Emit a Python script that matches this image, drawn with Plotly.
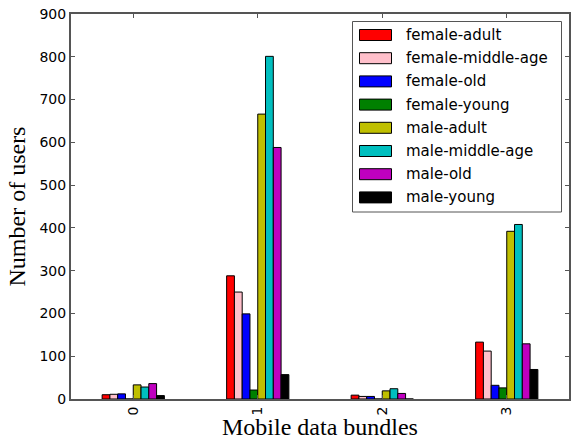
import plotly.graph_objects as go

categories = ["0", "1", "2", "3"]
series_names = ["female-adult", "female-middle-age", "female-old", "female-young",
                "male-adult", "male-middle-age", "male-old", "male-young"]
female_adult = [10, 288, 9, 133]
female_middle_age = [11, 250, 6, 112]
female_old = [12, 199, 6, 32]
female_young = [0, 21, 0, 26]
male_adult = [33, 666, 19, 392]
male_middle_age = [28, 801, 24, 408]
male_old = [36, 588, 13, 129]
male_young = [8, 57, 0, 69]
colors = ["#FF0000", "#FFC0CB", "#0000FF", "#008000",
          "#BFBF00", "#00BFBF", "#BF00BF", "#000000"]
y_ticks = [0, 100, 200, 300, 400, 500, 600, 700, 800, 900]

series_values = [female_adult, female_middle_age, female_old, female_young,
                 male_adult, male_middle_age, male_old, male_young]

W, H = 578, 441
ML, MR, MT, MB = 71, 9, 14, 42
PW, PH = W - ML - MR, H - MT - MB


def px_x(p):
    return (p - ML) / PW


def px_y(p):
    return (H - MB - p) / PH


fig = go.Figure()
for name, vals, col in zip(series_names, series_values, colors):
    fig.add_trace(go.Bar(x=categories, y=vals, name=name, showlegend=False,
                         marker=dict(color=col, line=dict(color="black", width=1))))

axis_col = "#555555"
shapes = []
annotations = []

# custom legend (matplotlib style)
shapes.append(dict(type="rect", xref="paper", yref="paper",
                   x0=px_x(352.5), x1=px_x(561.5), y0=px_y(212), y1=px_y(21.5),
                   line=dict(color=axis_col, width=1), fillcolor="white", layer="above"))
for i, (name, col) in enumerate(zip(series_names, colors)):
    cy = 35 + 23.2 * i
    shapes.append(dict(type="rect", xref="paper", yref="paper",
                       x0=px_x(359.5), x1=px_x(391.5), y0=px_y(cy + 5.5), y1=px_y(cy - 5.5),
                       line=dict(color="black", width=1), fillcolor=col, layer="above"))
    annotations.append(dict(text=name, xref="paper", yref="paper",
                            x=px_x(404), y=px_y(cy), xanchor="left", yanchor="middle",
                            showarrow=False,
                            font=dict(family="DejaVu Sans", size=15, color="black")))

# axis titles
annotations.append(dict(text="Mobile data bundles", xref="paper", yref="paper",
                        x=0.5, y=px_y(427), xanchor="center", yanchor="middle",
                        showarrow=False,
                        font=dict(family="Liberation Serif", size=24, color="black")))
annotations.append(dict(text="Number of users", xref="paper", yref="paper",
                        x=px_x(16), y=0.5, xanchor="center", yanchor="middle",
                        textangle=-90, showarrow=False,
                        font=dict(family="Liberation Serif", size=24, color="black")))

fig.update_layout(
    width=W, height=H,
    margin=dict(l=ML, r=MR, t=MT, b=MB, autoexpand=False),
    paper_bgcolor="white", plot_bgcolor="white",
    barmode="group", bargap=0.5, bargroupgap=0,
    showlegend=False, hovermode=False,
    font=dict(family="DejaVu Sans", size=14, color="black"),
    shapes=shapes, annotations=annotations,
    xaxis=dict(type="category", range=[-0.5, 3.5], tickangle=-90,
               showline=True, linecolor=axis_col, linewidth=2, mirror="ticks",
               ticks="inside", ticklen=4, tickcolor=axis_col,
               showgrid=False, zeroline=False, automargin=False,
               ticklabelstandoff=0),
    yaxis=dict(range=[0, 900], tickvals=y_ticks, ticktext=[str(v) for v in y_ticks],
               showline=True, linecolor=axis_col, linewidth=2, mirror="ticks",
               ticks="inside", ticklen=4, tickcolor=axis_col,
               showgrid=False, zeroline=False, automargin=False),
)

fig.write_html("out.html", config={"displayModeBar": False, "staticPlot": True},
               post_script="document.body.style.margin='0';document.body.style.overflow='hidden';")
